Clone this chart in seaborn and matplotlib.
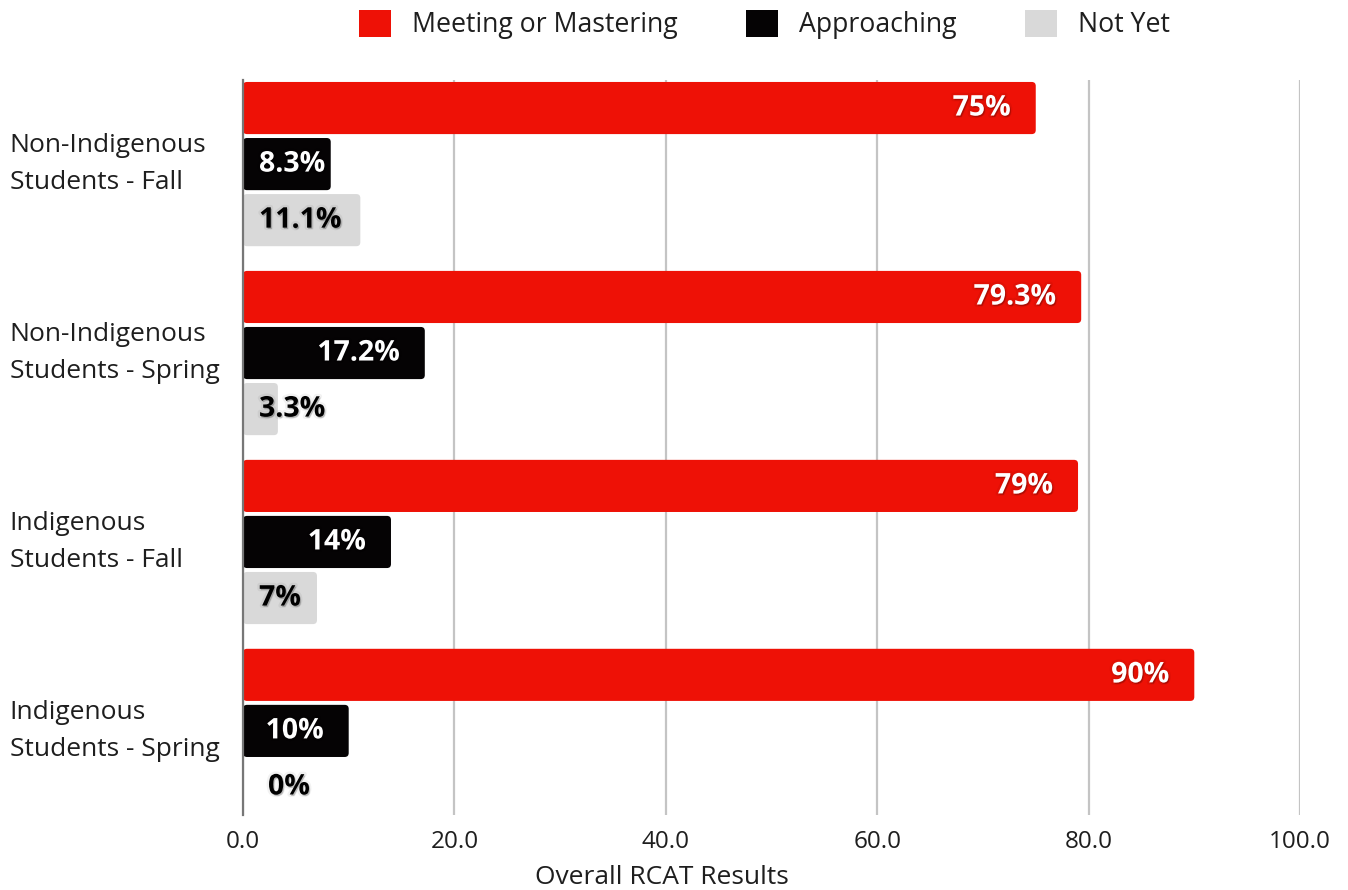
import numpy as np
import pandas as pd
import matplotlib
matplotlib.use("Agg")
import matplotlib.pyplot as plt
import matplotlib.patheffects as pe
from matplotlib.patches import FancyBboxPatch
import seaborn as sns

groups = [
    "Non-Indigenous\nStudents - Fall",
    "Non-Indigenous\nStudents - Spring",
    "Indigenous\nStudents - Fall",
    "Indigenous\nStudents - Spring",
]
levels = ["Meeting or Mastering", "Approaching", "Not Yet"]
meeting = [75.0, 79.3, 79.0, 90.0]
approaching = [8.3, 17.2, 14.0, 10.0]
not_yet = [11.1, 3.3, 7.0, 0.0]
value_labels = {
    "Meeting or Mastering": ["75%", "79.3%", "79%", "90%"],
    "Approaching": ["8.3%", "17.2%", "14%", "10%"],
    "Not Yet": ["11.1%", "3.3%", "7%", "0%"],
}
colors = ["#EE1106", "#050304", "#D9D9D9"]
x_ticks = [0, 20, 40, 60, 80, 100]
x_title = "Overall RCAT Results"

df = pd.DataFrame({
    "group": np.repeat(groups, 3),
    "level": levels * len(groups),
    "value": [v for trio in zip(meeting, approaching, not_yet) for v in trio],
})

sns.set_theme(style="white")
plt.rcParams["font.family"] = ["Open Sans", "DejaVu Sans"]

fig = plt.figure(figsize=(13.48, 8.9), dpi=100)
ax = fig.add_axes([243 / 1348, 75 / 890, (1300 - 243) / 1348, (810 - 75) / 890])

sns.barplot(
    data=df, y="group", x="value", hue="level", order=groups, hue_order=levels,
    palette=colors, orient="h", width=0.89, gap=0.07, ax=ax, legend=True,
    saturation=1, errorbar=None,
)

text_color = "#1E1E1E"
ax.set_xlim(0, 100)
ax.set_ylim(3.445, -0.445)
ax.set_xticks(x_ticks)
ax.set_xticklabels([f"{t:.1f}" for t in x_ticks], fontsize=17.5, color=text_color)
ax.tick_params(axis="x", length=0, pad=11)
ax.tick_params(axis="y", labelsize=19, labelcolor=text_color, length=0, pad=168)
for lab in ax.get_yticklabels():
    lab.set_horizontalalignment("left")
    lab.set_verticalalignment("center")
    lab.set_linespacing(1.65)
ax.set_ylabel("")
ax.set_xlabel(x_title, fontsize=19, color=text_color)
ax.xaxis.set_label_coords((662 - 243) / 1057, -0.085, transform=ax.transAxes)
ax.xaxis.get_label().set_verticalalignment("center")
ax.grid(axis="x", color="#C4C4C4", linewidth=1.6)
ax.grid(axis="y", visible=False)
ax.set_axisbelow(True)
for s in ["top", "right", "bottom"]:
    ax.spines[s].set_visible(False)
ax.spines["left"].set_color("#777777")
ax.spines["left"].set_linewidth(1.6)
ax.spines["left"].set_zorder(5)

# soften the bar corners
fig.canvas.draw()
px_x = ax.transData.transform((1, 0))[0] - ax.transData.transform((0, 0))[0]
px_y = ax.transData.transform((0, 1))[1] - ax.transData.transform((0, 0))[1]
aspect = abs(px_x / px_y)
radius = 4 / px_x
bar_info = []
for container, level in zip(ax.containers, levels):
    for rect, lab in zip(container.patches, value_labels[level]):
        x0, y0 = rect.get_x(), rect.get_y()
        w, h = rect.get_width(), rect.get_height()
        color = rect.get_facecolor()
        rect.set_visible(False)
        if w > 0:
            r = min(radius, w / 2)
            fb = FancyBboxPatch((x0, y0), w, h,
                                boxstyle=f"round,pad=0,rounding_size={r}",
                                mutation_aspect=aspect, facecolor=color,
                                edgecolor="none", zorder=3)
            ax.add_patch(fb)
        bar_info.append((level, w, y0 + h / 2, lab))

# value labels inside bar ends, with a soft drop shadow
shadow = [
    pe.Stroke(linewidth=3.5, foreground="black", alpha=0.05),
    pe.SimplePatchShadow(offset=(0.8, -1.0), alpha=0.22, shadow_rgbFace="black"),
    pe.Normal(),
]
renderer = fig.canvas.get_renderer()
axis_left_px = ax.transData.transform((0, 0))[0]
for level, w, yc, lab in bar_info:
    tcolor = "black" if level == "Not Yet" else "white"
    t = ax.annotate(lab, xy=(w, yc), xytext=(-25, 0), textcoords="offset pixels",
                    ha="right", va="center", fontsize=20.5, fontweight="bold",
                    color=tcolor, zorder=6, path_effects=shadow)
    bb = t.get_window_extent(renderer)
    if bb.x0 < axis_left_px + 13:
        t.remove()
        ax.annotate(lab, xy=(0, yc), xytext=(16 if w > 0 else 25, 0),
                    textcoords="offset pixels", ha="left", va="center",
                    fontsize=20.5, fontweight="bold", color=tcolor, zorder=6,
                    path_effects=shadow)

# legend across the top
leg = ax.get_legend()
if leg is not None:
    leg.remove()
handles = [FancyBboxPatch((0, 0), 1, 1, boxstyle="round,pad=0,rounding_size=0.1",
                          facecolor=c, edgecolor="none") for c in colors]
fig.legend(handles, levels, loc="upper center", bbox_to_anchor=(0.567, 1.016),
           ncol=3, frameon=False, fontsize=19.2, handlelength=1.2, handleheight=1.2,
           handletextpad=0.8, columnspacing=2.55, labelcolor=text_color)

fig.savefig("out.png", dpi=100)
